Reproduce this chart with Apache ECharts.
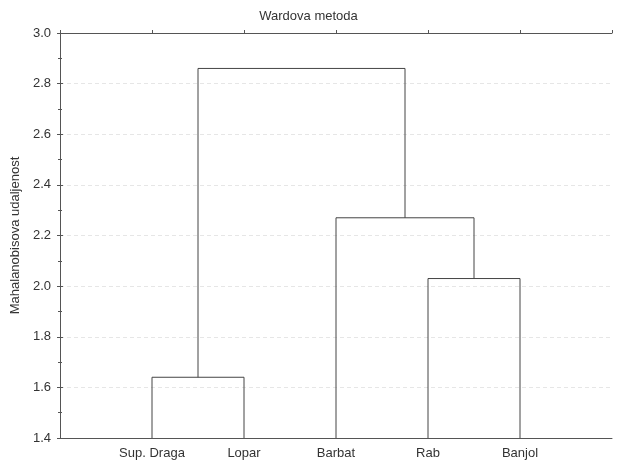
<!DOCTYPE html>
<html>
<head>
<meta charset="utf-8">
<script src="https://cdn.jsdelivr.net/npm/echarts@6/dist/echarts.min.js"></script>
<style>html,body{margin:0;padding:0;background:#fff}#c{width:617px;height:460px}</style>
</head>
<body>
<div id="c"></div>
<script>
// Leaves of the dendrogram, in drawing order
var leaves = ['Sup. Draga', 'Lopar', 'Barbat', 'Rab', 'Banjol'];
// Agglomeration steps: node ids 0-4 are leaves, each merge creates node 5, 6, ...
var mergeLeft = [0, 3, 2, 5];
var mergeRight = [1, 4, 6, 7];
var mergeHeight = [1.64, 2.03, 2.27, 2.86];
// Distance axis ticks
var yMin = 1.4, yMax = 3.0, yStep = 0.2;

var nodeX = [], nodeY = [];
leaves.forEach(function (n, i) { nodeX.push(i + 1); nodeY.push(yMin); });
var links = [];
for (var k = 0; k < mergeHeight.length; k++) {
  var a = mergeLeft[k], b = mergeRight[k], h = mergeHeight[k];
  links.push([[nodeX[a], nodeY[a]], [nodeX[a], h], [nodeX[b], h], [nodeX[b], nodeY[b]]]);
  nodeX.push((nodeX[a] + nodeX[b]) / 2);
  nodeY.push(h);
}

var font = 'Liberation Sans, Arial, sans-serif';
var axisColor = '#555';
var chart = echarts.init(document.getElementById('c'), null, {renderer: 'canvas'});
chart.setOption({
  animation: false,
  title: {
    text: 'Wardova metoda', left: 'center', top: 5,
    textStyle: {fontFamily: font, fontSize: 13, fontWeight: 'normal', color: '#333'}
  },
  grid: {left: 60, right: 5, top: 33, bottom: 22},
  xAxis: [{
    type: 'value', min: 0, max: leaves.length + 1, interval: 1, position: 'bottom',
    axisLine: {lineStyle: {color: axisColor, width: 1}},
    axisTick: {show: false},
    splitLine: {show: false},
    axisLabel: {
      fontFamily: font, fontSize: 13, color: '#333', margin: 9,
      formatter: function (v) { return leaves[v - 1] || ''; }
    }
  }, {
    type: 'value', min: 0, max: leaves.length + 1, interval: 1, position: 'top',
    axisLine: {lineStyle: {color: axisColor, width: 1}},
    axisTick: {show: true, inside: false, length: 3, lineStyle: {color: axisColor}},
    axisLabel: {show: false},
    splitLine: {show: false}
  }],
  yAxis: [{
    type: 'value', min: yMin, max: yMax, interval: yStep, position: 'left',
    name: 'Mahalanobisova udaljenost', nameLocation: 'middle', nameGap: 37,
    nameTextStyle: {fontFamily: font, fontSize: 13, color: '#333'},
    axisLine: {show: true, lineStyle: {color: axisColor, width: 1}},
    axisTick: {show: true, inside: false, length: 3, lineStyle: {color: axisColor}},
    minorTick: {show: true, splitNumber: 2, length: 2, lineStyle: {color: axisColor}},
    axisLabel: {fontFamily: font, fontSize: 13, color: '#333', margin: 9,
      formatter: function (v) { return v.toFixed(1); }},
    splitLine: {show: true, lineStyle: {color: '#e6e6e6', type: [4, 3], width: 1}}
  }, {
    type: 'value', min: yMin, max: yMax, interval: yStep, position: 'right',
    axisLine: {show: true, lineStyle: {color: axisColor, width: 1}},
    axisTick: {show: true, inside: false, length: 3, lineStyle: {color: axisColor}},
    minorTick: {show: true, splitNumber: 2, length: 2, lineStyle: {color: axisColor}},
    axisLabel: {show: false},
    splitLine: {show: false}
  }],
  series: links.map(function (pts) {
    return {
      type: 'line', data: pts, symbol: 'none', silent: true,
      lineStyle: {color: '#444', width: 1}
    };
  })
});
</script>
</body>
</html>
